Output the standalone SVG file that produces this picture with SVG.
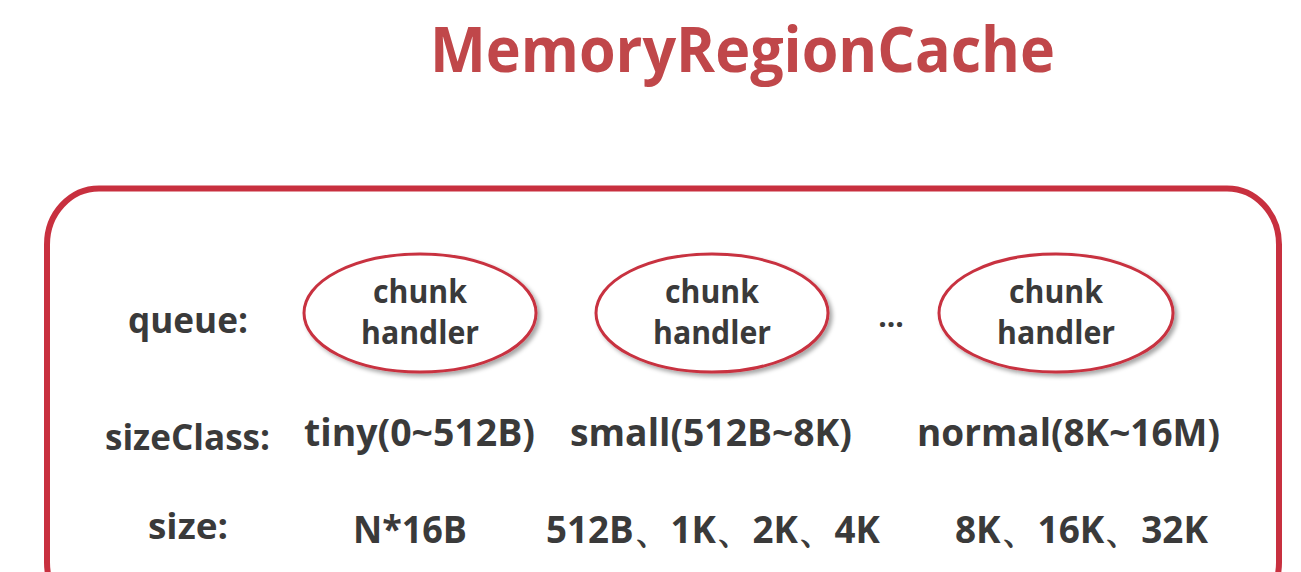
<svg xmlns="http://www.w3.org/2000/svg" width="1301" height="572" viewBox="0 0 1301 572">
<defs>
<style>
.t{font-family:"Open Sans","Noto Sans","Liberation Sans",sans-serif;font-weight:bold;fill:#3a3a3a;}
.title{font-family:"Open Sans","Noto Sans","Liberation Sans",sans-serif;font-weight:bold;fill:#c0474a;font-size:62px;}
.ell{fill:#ffffff;stroke:#c8303f;stroke-width:3;}
.lbl{font-size:35px;}
.cell{font-size:37px;}
.in{font-size:32px;text-anchor:middle;}
</style>
<filter id="sh" x="-10%" y="-10%" width="130%" height="130%">
<feDropShadow dx="3" dy="3" stdDeviation="2" flood-color="#000" flood-opacity="0.35"/>
</filter>
</defs>
<rect width="1301" height="572" fill="#ffffff"/>
<text class="title" x="430" y="72" textLength="625" lengthAdjust="spacingAndGlyphs">MemoryRegionCache</text>
<g id="container">
<rect x="47" y="188.5" width="1232" height="430" rx="52" ry="56" fill="none" stroke="#c8303f" stroke-width="6"/>
</g>
<g id="labels">
<text class="t lbl" x="128" y="333" textLength="120" lengthAdjust="spacingAndGlyphs">queue:</text>
<text class="t lbl" x="105" y="450" textLength="165" lengthAdjust="spacingAndGlyphs">sizeClass:</text>
<text class="t lbl" x="148" y="539" textLength="80" lengthAdjust="spacingAndGlyphs">size:</text>
</g>
<g id="handler1">
<ellipse class="ell" cx="420" cy="313" rx="116" ry="59" filter="url(#sh)"/>
<text class="t in" x="420" y="303" textLength="94" lengthAdjust="spacingAndGlyphs">chunk</text>
<text class="t in" x="420" y="344" textLength="118" lengthAdjust="spacingAndGlyphs">handler</text>
</g>
<g id="handler2">
<ellipse class="ell" cx="712" cy="313" rx="116" ry="59" filter="url(#sh)"/>
<text class="t in" x="712" y="303" textLength="94" lengthAdjust="spacingAndGlyphs">chunk</text>
<text class="t in" x="712" y="344" textLength="118" lengthAdjust="spacingAndGlyphs">handler</text>
</g>
<g id="ellipsis">
<text class="t" x="891" y="327" font-size="30" text-anchor="middle">...</text>
</g>
<g id="handler3">
<ellipse class="ell" cx="1056" cy="313" rx="117" ry="59" filter="url(#sh)"/>
<text class="t in" x="1056" y="303" textLength="94" lengthAdjust="spacingAndGlyphs">chunk</text>
<text class="t in" x="1056" y="344" textLength="118" lengthAdjust="spacingAndGlyphs">handler</text>
</g>
<g id="sizeclass">
<text class="t cell" x="304" y="446" textLength="231" lengthAdjust="spacingAndGlyphs">tiny(0~512B)</text>
<text class="t cell" x="570" y="446" textLength="282" lengthAdjust="spacingAndGlyphs">small(512B~8K)</text>
<text class="t cell" x="917" y="446" textLength="303" lengthAdjust="spacingAndGlyphs">normal(8K~16M)</text>
</g>
<g id="sizes">
<text class="t cell" x="353" y="543" textLength="114" lengthAdjust="spacingAndGlyphs">N*16B</text>
<text class="t cell" x="546" y="543" textLength="334" lengthAdjust="spacingAndGlyphs">512B、1K、2K、4K</text>
<text class="t cell" x="955" y="543" textLength="253" lengthAdjust="spacingAndGlyphs">8K、16K、32K</text>
</g>
<g id="connectors"></g>
</svg>
